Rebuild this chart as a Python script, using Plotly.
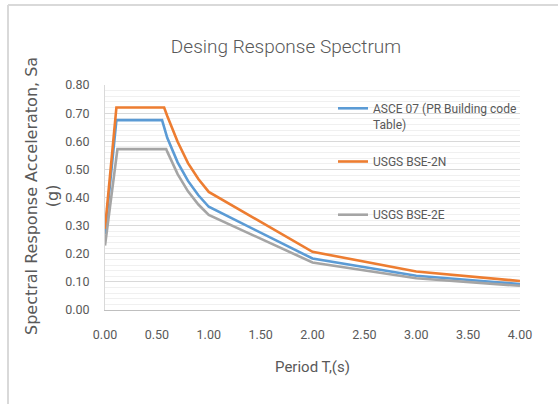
import plotly.graph_objects as go

# Data
asce_T = [0.0, 0.11, 0.55, 0.6, 0.7, 0.8, 0.9, 1.0, 2.0, 3.0, 4.0]
asce_Sa = [0.27, 0.675, 0.675, 0.612, 0.525, 0.459, 0.408, 0.367, 0.183, 0.122, 0.092]

bse2n_T = [0.0, 0.11, 0.57, 0.6, 0.7, 0.8, 0.9, 1.0, 2.0, 3.0, 4.0]
bse2n_Sa = [0.288, 0.72, 0.72, 0.69, 0.598, 0.522, 0.466, 0.42, 0.207, 0.137, 0.103]

bse2e_T = [0.0, 0.12, 0.59, 0.6, 0.7, 0.8, 0.9, 1.0, 2.0, 3.0, 4.0]
bse2e_Sa = [0.229, 0.572, 0.572, 0.563, 0.483, 0.422, 0.375, 0.338, 0.169, 0.113, 0.086]

names = ["ASCE 07 (PR Building code<br>Table)", "USGS BSE-2N<br> ", "USGS BSE-2E<br> "]
colors = ["#5b9bd5", "#ed7d31", "#a5a5a5"]

x_ticks = [0, 0.5, 1.0, 1.5, 2.0, 2.5, 3.0, 3.5, 4.0]
y_ticks = [0, 0.1, 0.2, 0.3, 0.4, 0.5, 0.6, 0.7, 0.8]

y_title = "Spectral Response Acceleraton, Sa<br>(g)"

NARROW = "Roboto, Liberation Sans, sans-serif"
TXT = "#595959"

fig = go.Figure()
for i, (xs, ys) in enumerate([(asce_T, asce_Sa), (bse2n_T, bse2n_Sa), (bse2e_T, bse2e_Sa)]):
    fig.add_trace(go.Scatter(
        x=xs, y=ys, mode="lines", name=names[i], legendgroup=f"g{i}",
        line=dict(color=colors[i], width=2.6),
    ))

W, H = 558, 404
L, R, T, B = 105, 38, 85, 94
pw, ph = W - L - R, H - T - B

def px_x(p):
    return (p - L) / pw

def px_y(p):
    return (H - B - p) / ph

fig.update_layout(
    width=W, height=H,
    margin=dict(l=L, r=R, t=T, b=B),
    paper_bgcolor="white", plot_bgcolor="white",
    title=dict(text="Desing Response Spectrum", x=286 / W, xanchor="center",
               y=1 - 46 / H, yanchor="middle",
               font=dict(family=NARROW, size=19, color=TXT, weight=300)),
    showlegend=True,
    legend=dict(x=px_x(333), y=px_y(94), xanchor="left", yanchor="top",
                font=dict(family=NARROW, size=12, color=TXT),
                valign="top", traceorder="grouped", tracegroupgap=19,
                bgcolor="rgba(0,0,0,0)"),
    xaxis=dict(range=[0, 4], tickvals=x_ticks, tickformat=".2f",
               showgrid=False, zeroline=False, showline=True, linecolor="#bfbfbf", linewidth=1,
               ticks="", ticklabelstandoff=13, tickfont=dict(family=NARROW, size=12.5, color=TXT),
               title=dict(text="Period T,(s)", font=dict(family=NARROW, size=15, color=TXT), standoff=20)),
    yaxis=dict(range=[0, 0.8], tickvals=y_ticks, tickformat=".2f",
               showgrid=True, gridcolor="#d9d9d9", gridwidth=1, zeroline=False,
               showline=True, linecolor="#d9d9d9", linewidth=1, mirror=False,
               minor=dict(dtick=0.02, showgrid=True, gridcolor="#f0f0f0", gridwidth=1),
               ticks="", ticklabelstandoff=12, tickfont=dict(family=NARROW, size=12.5, color=TXT)),
    annotations=[dict(text=y_title, textangle=-90, xref="paper", yref="paper",
                      x=px_x(42), y=px_y(196), xanchor="center", yanchor="middle",
                      showarrow=False, align="center",
                      font=dict(family="DejaVu Sans", size=16, color=TXT))],
)

# outer chart border (top and left visible in reference)
fig.add_shape(type="line", xref="paper", yref="paper", x0=px_x(8), x1=px_x(560), y0=px_y(5), y1=px_y(5),
              line=dict(color="#d9d9d9", width=2))
fig.add_shape(type="line", xref="paper", yref="paper", x0=px_x(8), x1=px_x(8), y0=px_y(5), y1=px_y(406),
              line=dict(color="#d9d9d9", width=2))

fig.write_html("out.html")
